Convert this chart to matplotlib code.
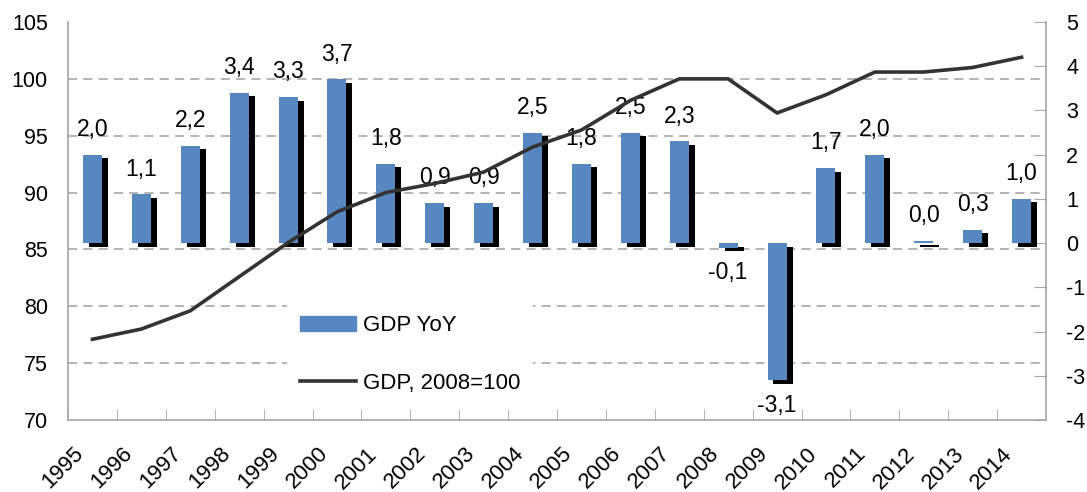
import numpy as np
import matplotlib
matplotlib.use('Agg')
import matplotlib.pyplot as plt
import matplotlib.ticker as ticker
import matplotlib.patches as mpatches
import matplotlib.patheffects as pe
import matplotlib.transforms as mtransforms
from matplotlib.lines import Line2D

plt.rcParams['font.family'] = ['Liberation Sans', 'DejaVu Sans']
plt.rcParams['axes.unicode_minus'] = False

years = [str(y) for y in range(1995, 2015)]
gdp_yoy = [2.0, 1.1, 2.2, 3.4, 3.3, 3.7, 1.8, 0.9, 0.9, 2.5,
           1.8, 2.5, 2.3, -0.1, -3.1, 1.7, 2.0, 0.04, 0.3, 1.0]
gdp_index = [77.1, 78.0, 79.6, 82.6, 85.6, 88.3, 90.0, 90.8, 91.8, 94.0,
             95.5, 98.1, 100.0, 100.0, 97.0, 98.6, 100.6, 100.6, 101.0, 101.9]

blue = '#5687C1'
gray = '#A6A6A6'
x = np.arange(len(years))

fig = plt.figure(figsize=(10.87, 4.92), dpi=100)
ax = fig.add_axes([68/1087, 1-420/492, (1046-68)/1087, (420-22)/492])

# bars on right scale
ax.set_xlim(-0.5, len(years)-0.5)
ax.set_ylim(-4, 5)
shadow = [pe.SimplePatchShadow(offset=(4.3, -2.6), shadow_rgbFace='black', alpha=1.0), pe.Normal()]
bars = ax.bar(x, gdp_yoy, width=0.39, color=blue, zorder=3)
for b in bars:
    b.set_path_effects(shadow)

for xi, v in zip(x, gdp_yoy):
    txt = ('%.1f' % v).replace('.', ',')
    if v >= 0:
        ax.annotate(txt, (xi, v), xytext=(0, 10), textcoords='offset points',
                    ha='center', va='bottom', fontsize=16.5, zorder=4)
    else:
        ax.annotate(txt, (xi, v), xytext=(0, -10), textcoords='offset points',
                    ha='center', va='top', fontsize=16.5, zorder=4)

# gridlines at left-axis ticks (drawn under bars)
left_ticks = np.arange(70, 106, 5)
ax.yaxis.set_minor_locator(ticker.FixedLocator(-4 + (left_ticks - 70) * 9 / 35))
ax.grid(which='minor', axis='y', color='#A0A0A0', linestyle=(0, (6, 4)), linewidth=1.1, zorder=0)
ax.yaxis.set_major_locator(ticker.MultipleLocator(1))

ax.set_xticks(x - 0.5, minor=True)
ax.set_xticks(x)
ax.set_xticklabels(years, rotation=45, ha='right', va='center', rotation_mode='anchor', fontsize=16)
ax.tick_params(axis='x', which='minor', direction='in', length=8, color=gray)
ax.tick_params(axis='x', which='major', length=0, pad=22)
offset = mtransforms.ScaledTranslation(-12/100, 0, fig.dpi_scale_trans)
for lab in ax.get_xticklabels():
    lab.set_transform(lab.get_transform() + offset)

for s in ['left', 'top']:
    ax.spines[s].set_visible(False)
for s in ['right', 'bottom']:
    ax.spines[s].set_color(gray)
    ax.spines[s].set_linewidth(1.2)

# line on left scale
ax2 = ax.twinx()
ax2.set_ylim(70, 105)
ax2.yaxis.tick_left()
ax2.yaxis.set_major_locator(ticker.MultipleLocator(5))
ax2.tick_params(axis='y', length=0, pad=14.5, labelsize=15.5)
ax2.plot(x, gdp_index, color='#333333', linewidth=2.6, solid_joinstyle='miter')
for s in ['right', 'top', 'bottom']:
    ax2.spines[s].set_visible(False)
ax2.spines['left'].set_color(gray)
ax2.spines['left'].set_linewidth(1.2)

ax.yaxis.tick_right()
ax.tick_params(axis='y', which='major', direction='in', length=9, color=gray, pad=14.5, labelsize=15.5)
ax.tick_params(axis='y', which='minor', length=0)

handles = [mpatches.Patch(color=blue), Line2D([], [], color='#333333', linewidth=2.6)]
leg = ax2.legend(handles, ['GDP YoY', 'GDP, 2008=100'], loc='upper left',
                 bbox_to_anchor=(287/1087, 1-302/492), bbox_transform=fig.transFigure,
                 frameon=True, fancybox=False, edgecolor='none', facecolor='white', framealpha=1,
                 fontsize=16, handlelength=2.5, handleheight=0.65, handletextpad=0.3,
                 labelspacing=1.65, borderpad=0.6, borderaxespad=0)

fig.savefig('out.png', dpi=100)
